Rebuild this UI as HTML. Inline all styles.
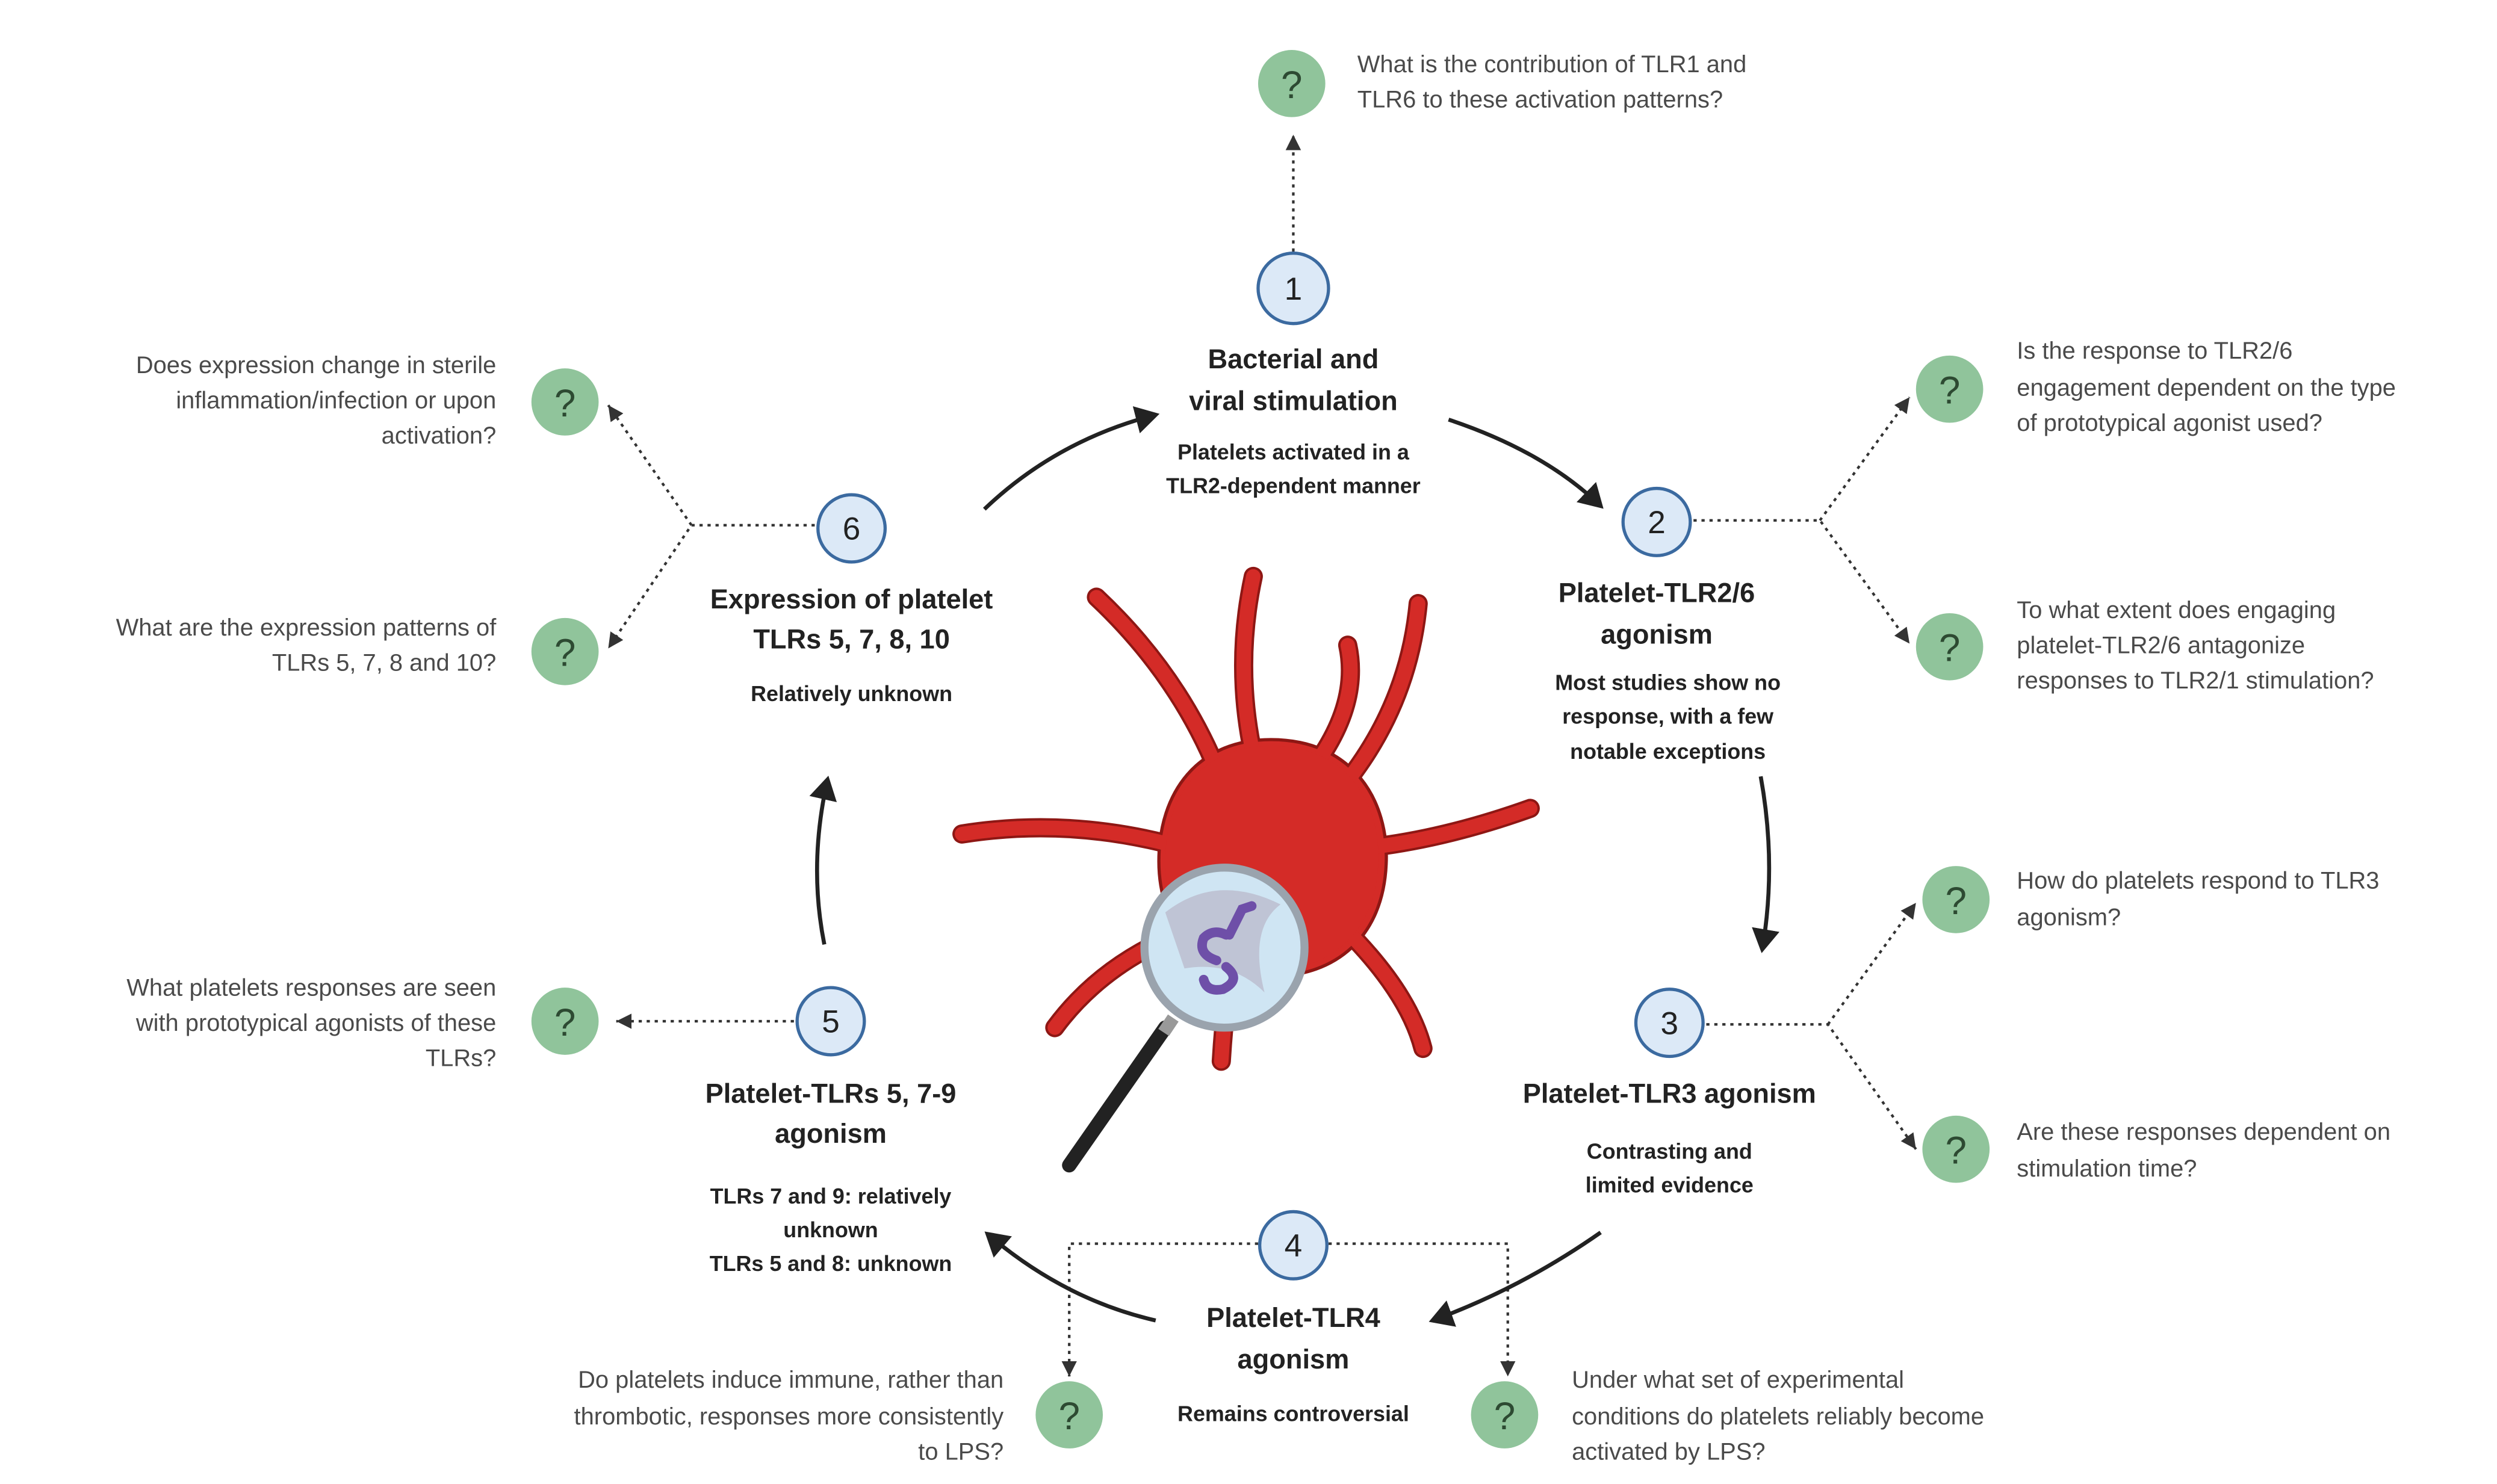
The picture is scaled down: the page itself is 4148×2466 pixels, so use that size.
<!DOCTYPE html>
<html><head><meta charset="utf-8"><style>
html,body{margin:0;padding:0;background:#fff;}
svg{display:block;}
.t{font-family:"Liberation Sans",sans-serif;font-weight:bold;font-size:17px;fill:#222;text-anchor:middle;}
.s{font-family:"Liberation Sans",sans-serif;font-weight:bold;font-size:13.5px;fill:#222;text-anchor:middle;}
.q{font-family:"Liberation Sans",sans-serif;font-size:15px;fill:#4a4a4a;}
.r{text-anchor:end;}
.n{font-family:"Liberation Sans",sans-serif;font-size:20px;fill:#222;text-anchor:middle;}
.qm{font-family:"Liberation Sans",sans-serif;font-size:24px;fill:#2d4a32;text-anchor:middle;}
.d{stroke:#333;stroke-width:1.6;stroke-dasharray:2 3;fill:none;}
.a{stroke:#222;stroke-width:2.5;fill:none;}
.tn{stroke:#8e1714;stroke-width:12;stroke-linecap:round;fill:none;}
.ti{stroke:#d42b27;stroke-width:9;stroke-linecap:round;fill:none;}
</style></head><body>
<svg width="4148" height="2466" viewBox="0 0 1560 927" xmlns="http://www.w3.org/2000/svg">
<defs>
<marker id="ah" markerWidth="7" markerHeight="7" refX="5" refY="3.5" orient="auto" markerUnits="strokeWidth"><path d="M0,0 L6,3.5 L0,7 z" fill="#222"/></marker>
<marker id="dh" markerWidth="8" markerHeight="8" refX="6" refY="4" orient="auto" markerUnits="strokeWidth"><path d="M0,1 L6,4 L0,7 z" fill="#333"/></marker>
</defs>
<rect width="1560" height="927" fill="#fff"/>

<path class="d" d="M808,157 L808,84" marker-end="url(#dh)"/>
<path class="d" d="M1058,325 L1137,325 L1193,402" marker-end="url(#dh)"/>
<path class="d" d="M1137,325 L1193,248" marker-end="url(#dh)"/>
<path class="d" d="M1066,640 L1142,640 L1197,718" marker-end="url(#dh)"/>
<path class="d" d="M1142,640 L1197,564" marker-end="url(#dh)"/>
<path class="d" d="M786,777 L668,777 L668,860" marker-end="url(#dh)"/>
<path class="d" d="M830,777 L942,777 L942,860" marker-end="url(#dh)"/>
<path class="d" d="M496,638 L385,638" marker-end="url(#dh)"/>
<path class="d" d="M509,328 L432,328 L380,405" marker-end="url(#dh)"/>
<path class="d" d="M432,328 L380,253" marker-end="url(#dh)"/>

<path class="a" d="M615,318 Q660,275 722,259" marker-end="url(#ah)"/>
<path class="a" d="M905,262 Q965,282 1000,316" marker-end="url(#ah)"/>
<path class="a" d="M1100,485 Q1110,540 1101,593" marker-end="url(#ah)"/>
<path class="a" d="M1000,770 Q950,805 895,825" marker-end="url(#ah)"/>
<path class="a" d="M722,825 Q665,812 617,771" marker-end="url(#ah)"/>
<path class="a" d="M515,590 Q505,540 517,487" marker-end="url(#ah)"/>

<g>
<path class="tn" d="M760,480 Q735,420 685,373 M785,480 Q770,420 783,360 M820,480 Q850,440 842,403 M840,490 Q880,440 886,377 M850,530 Q900,525 956,505 M740,530 Q670,510 601,521 M745,580 Q690,600 659,642 M770,595 Q765,630 763,663 M840,580 Q880,620 889,655"/>
<path d="M794,462 C845,462 868,500 866,540 C864,585 835,610 794,610 C750,610 724,580 724,538 C724,495 748,462 794,462 Z" fill="#d42b27" stroke="#8e1714" stroke-width="2"/>
<path class="ti" d="M760,480 Q735,420 685,373 M785,480 Q770,420 783,360 M820,480 Q850,440 842,403 M840,490 Q880,440 886,377 M850,530 Q900,525 956,505 M740,530 Q670,510 601,521 M745,580 Q690,600 659,642 M770,595 Q765,630 763,663 M840,580 Q880,620 889,655"/>
<path d="M794,466 C842,466 863,502 861,540 C859,582 832,606 794,606 C752,606 728,578 728,538 C728,498 750,466 794,466 Z" fill="#d42b27"/>
</g>
<line x1="728" y1="642" x2="668" y2="728" stroke="#222" stroke-width="9" stroke-linecap="round"/>
<line x1="733" y1="636" x2="727" y2="645" stroke="#999" stroke-width="8"/>
<circle cx="765" cy="592" r="50" fill="#cfe5f3" stroke="#9aa3ad" stroke-width="5"/>
<path d="M728,570 Q760,545 800,565 Q780,580 790,620 Q770,600 740,605 Z" fill="#b8b6c8" opacity="0.7"/>
<path d="M760,600 q-12,-4 -8,-14 q6,-6 14,-2 M766,604 q10,8 -2,14 q-10,2 -12,-6 M768,584 l8,-16 l6,-2" stroke="#6e4fa8" stroke-width="6" fill="none" stroke-linecap="round"/>

<g fill="#dce9f7" stroke="#3b6aa0" stroke-width="2">
<circle cx="808" cy="180" r="22"/><circle cx="1035" cy="326" r="21"/><circle cx="1043" cy="639" r="21"/>
<circle cx="808" cy="778" r="21"/><circle cx="519" cy="638" r="21"/><circle cx="532" cy="330" r="21"/>
</g>
<text class="n" x="808" y="187">1</text><text class="n" x="1035" y="333">2</text><text class="n" x="1043" y="646">3</text>
<text class="n" x="808" y="785">4</text><text class="n" x="519" y="645">5</text><text class="n" x="532" y="337">6</text>

<g fill="#90c49b">
<circle cx="807" cy="52" r="21"/><circle cx="1218" cy="243" r="21"/><circle cx="1218" cy="404" r="21"/>
<circle cx="1222" cy="562" r="21"/><circle cx="1222" cy="718" r="21"/><circle cx="940" cy="884" r="21"/>
<circle cx="668" cy="884" r="21"/><circle cx="353" cy="638" r="21"/><circle cx="353" cy="251" r="21"/><circle cx="353" cy="407" r="21"/>
</g>
<g class="qm">
<text x="807" y="61">?</text><text x="1218" y="252">?</text><text x="1218" y="413">?</text><text x="1222" y="571">?</text>
<text x="1222" y="727">?</text><text x="940" y="893">?</text><text x="668" y="893">?</text><text x="353" y="647">?</text>
<text x="353" y="260">?</text><text x="353" y="416">?</text>
</g>

<text class="t" x="808" y="230">Bacterial and</text><text class="t" x="808" y="256">viral stimulation</text>
<text class="s" x="808" y="287">Platelets activated in a</text><text class="s" x="808" y="308">TLR2-dependent manner</text>
<text class="t" x="1035" y="376">Platelet-TLR2/6</text><text class="t" x="1035" y="402">agonism</text>
<text class="s" x="1042" y="431">Most studies show no</text><text class="s" x="1042" y="452">response, with a few</text><text class="s" x="1042" y="474">notable exceptions</text>
<text class="t" x="1043" y="689">Platelet-TLR3 agonism</text>
<text class="s" x="1043" y="724">Contrasting and</text><text class="s" x="1043" y="745">limited evidence</text>
<text class="t" x="808" y="829">Platelet-TLR4</text><text class="t" x="808" y="855">agonism</text>
<text class="s" x="808" y="888">Remains controversial</text>
<text class="t" x="519" y="689">Platelet-TLRs 5, 7-9</text><text class="t" x="519" y="714">agonism</text>
<text class="s" x="519" y="752">TLRs 7 and 9: relatively</text><text class="s" x="519" y="773">unknown</text><text class="s" x="519" y="794">TLRs 5 and 8: unknown</text>
<text class="t" x="532" y="380">Expression of platelet</text><text class="t" x="532" y="405">TLRs 5, 7, 8, 10</text>
<text class="s" x="532" y="438">Relatively unknown</text>

<g class="q">
<text x="848" y="45">What is the contribution of TLR1 and</text><text x="848" y="67">TLR6 to these activation patterns?</text>
<text x="1260" y="224">Is the response to TLR2/6</text><text x="1260" y="247">engagement dependent on the type</text><text x="1260" y="269">of prototypical agonist used?</text>
<text x="1260" y="386">To what extent does engaging</text><text x="1260" y="408">platelet-TLR2/6 antagonize</text><text x="1260" y="430">responses to TLR2/1 stimulation?</text>
<text x="1260" y="555">How do platelets respond to TLR3</text><text x="1260" y="578">agonism?</text>
<text x="1260" y="712">Are these responses dependent on</text><text x="1260" y="735">stimulation time?</text>
<text x="982" y="867">Under what set of experimental</text><text x="982" y="890">conditions do platelets reliably become</text><text x="982" y="912">activated by LPS?</text>
</g>
<g class="q r">
<text x="627" y="867">Do platelets induce immune, rather than</text><text x="627" y="890">thrombotic, responses more consistently</text><text x="627" y="912">to LPS?</text>
<text x="310" y="622">What platelets responses are seen</text><text x="310" y="644">with prototypical agonists of these</text><text x="310" y="666">TLRs?</text>
<text x="310" y="233">Does expression change in sterile</text><text x="310" y="255">inflammation/infection or upon</text><text x="310" y="277">activation?</text>
<text x="310" y="397">What are the expression patterns of</text><text x="310" y="419">TLRs 5, 7, 8 and 10?</text>
</g>
</svg>
</body></html>
